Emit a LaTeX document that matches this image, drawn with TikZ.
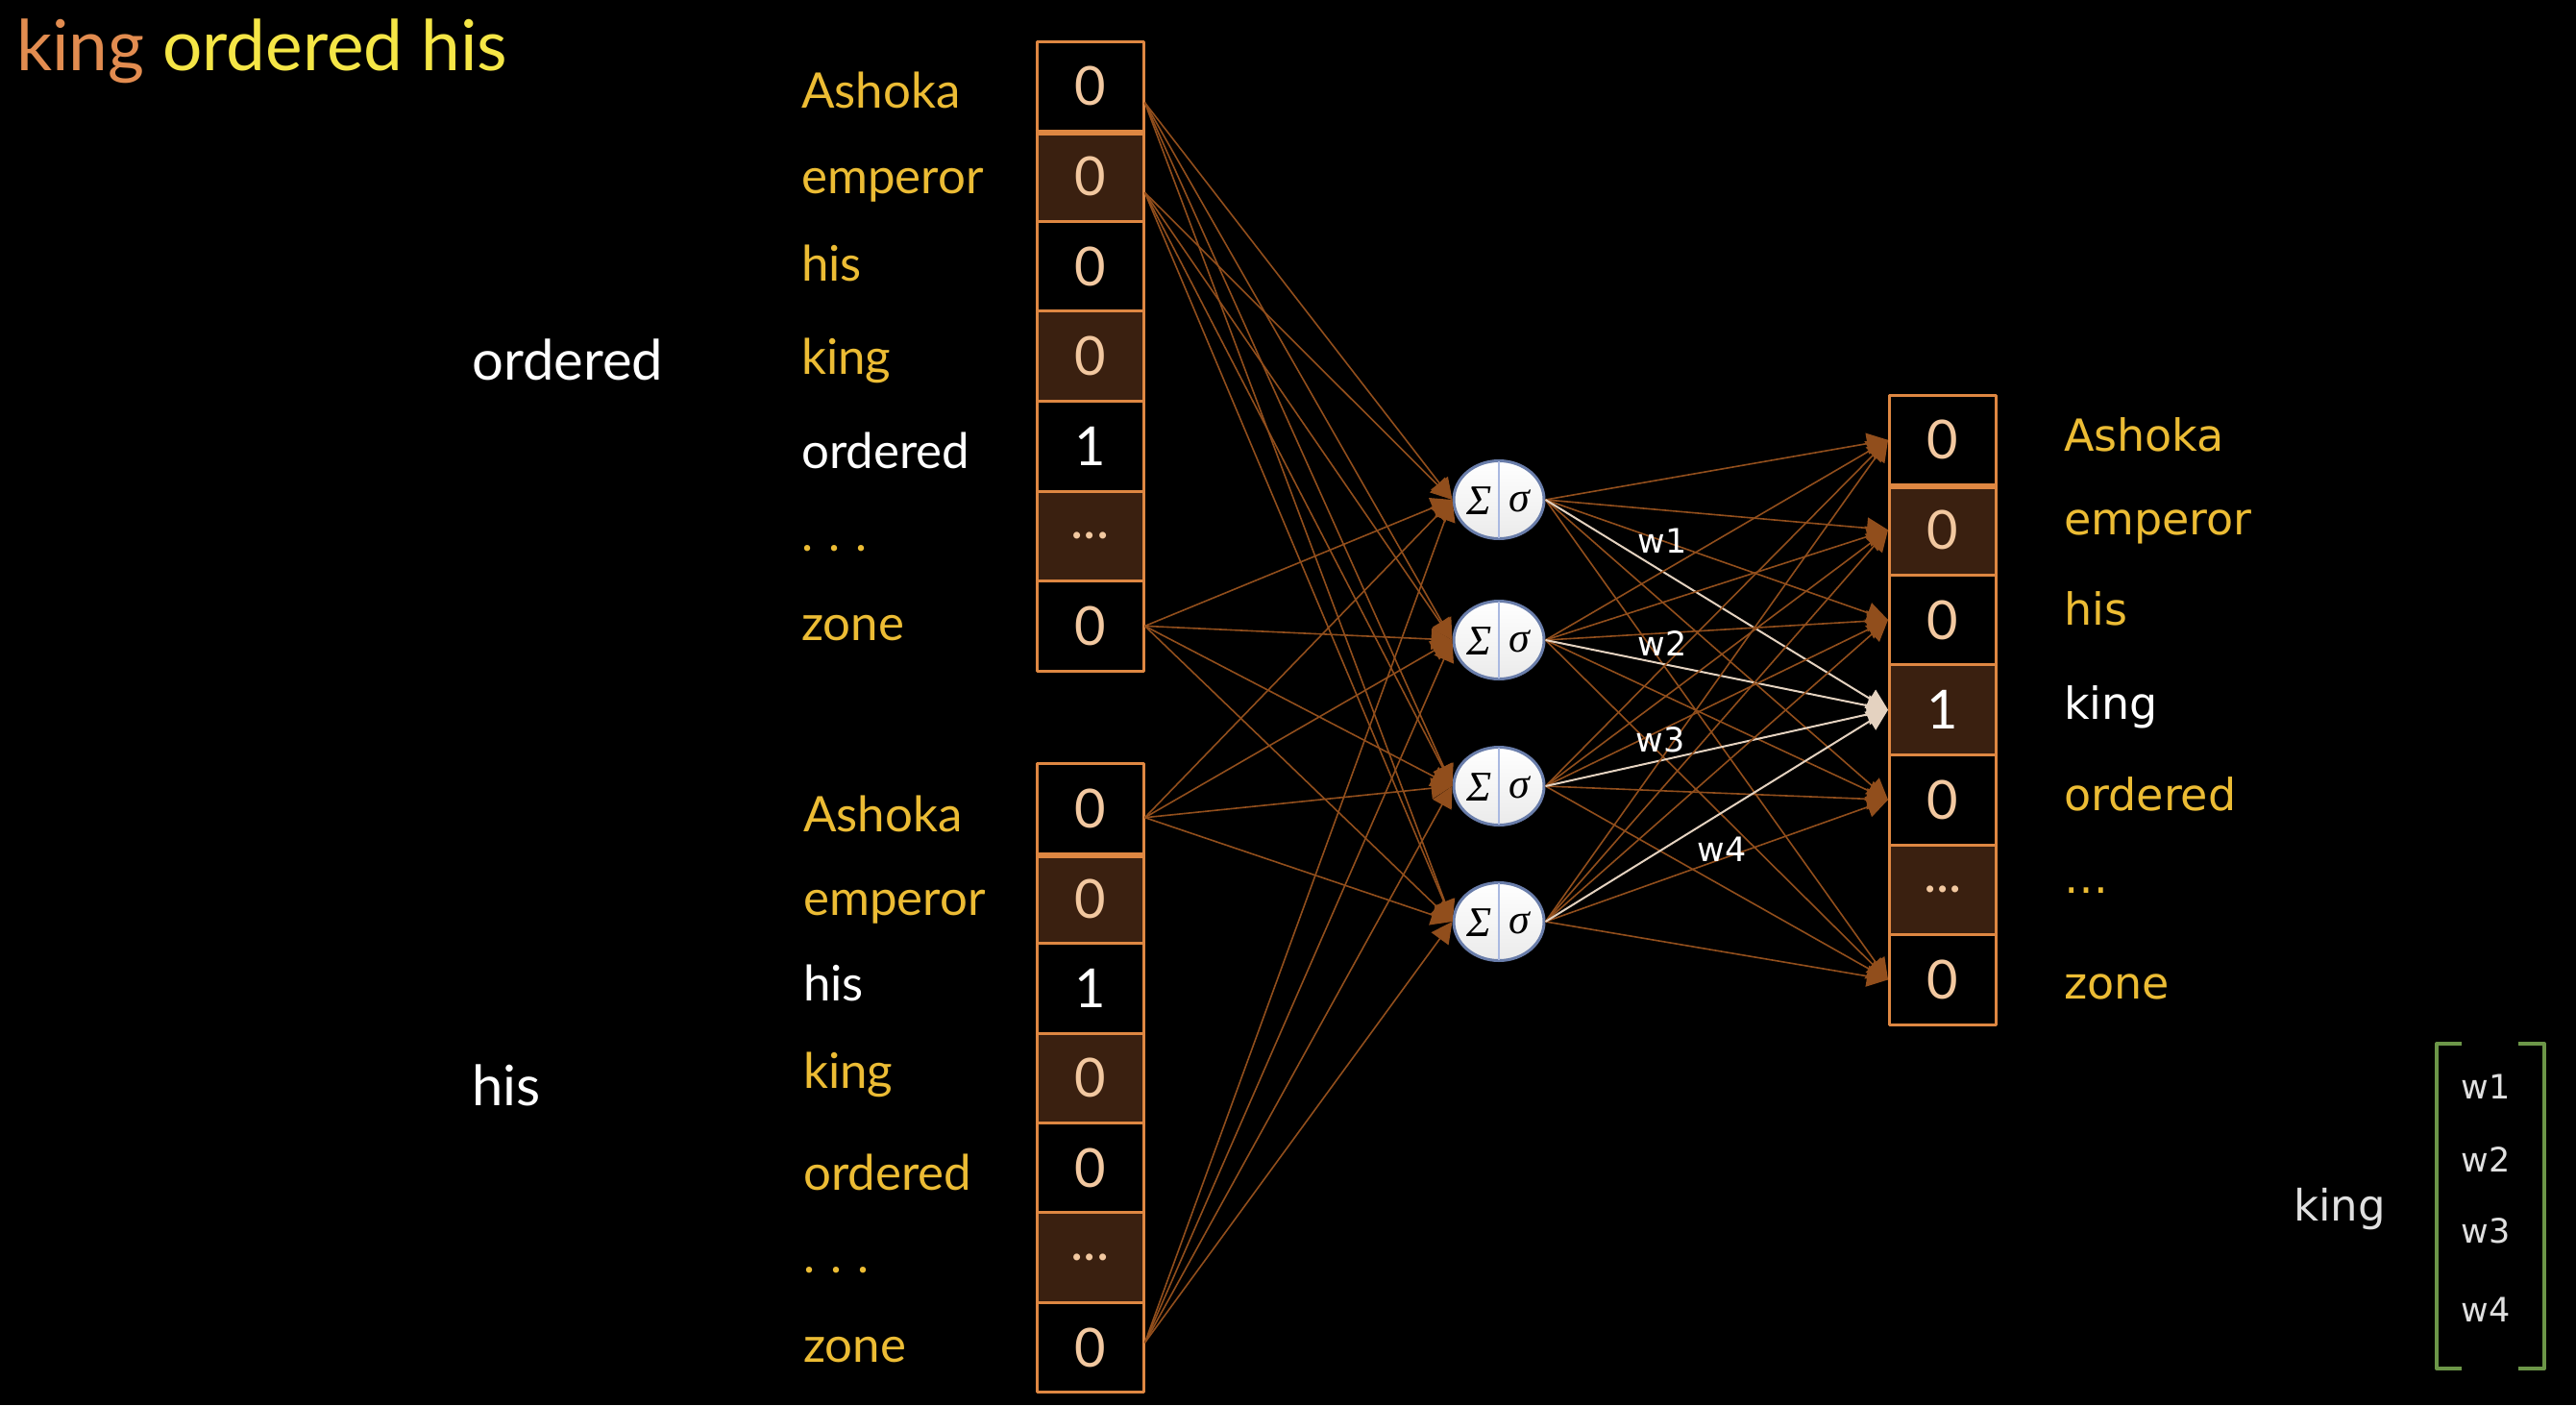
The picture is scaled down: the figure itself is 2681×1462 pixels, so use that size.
\documentclass[tikz,border=0pt]{standalone}
\usepackage{fontspec}
\setmainfont{Lato}
\newfontfamily\verdfont{DejaVu Sans}
\newfontfamily\greekfont{Liberation Serif}
\usetikzlibrary{shapes.geometric,arrows.meta}
\definecolor{gold}{RGB}{236,188,52}
\definecolor{lemon}{RGB}{245,230,70}
\definecolor{kingorange}{RGB}{226,140,80}
\definecolor{boxorange}{RGB}{222,135,66}
\definecolor{cellbrown}{RGB}{58,32,16}
\definecolor{peach}{RGB}{242,200,160}
\definecolor{linkbrown}{RGB}{145,78,28}
\definecolor{kinglink}{RGB}{228,210,192}
\definecolor{bracketgreen}{RGB}{108,150,72}
\definecolor{neuronrim}{RGB}{105,125,170}
\definecolor{neuronbar}{RGB}{170,185,225}
\newcommand\celldots{...}
\newcommand\labdots{.\hspace{0.32em}.\hspace{0.32em}.}
\tikzset{
  cell/.style={draw=boxorange, line width=3pt, minimum width=111pt, minimum height=93.6pt, inner sep=0pt, font=\fontsize{56}{60}\selectfont},
  lab/.style={anchor=base west, inner sep=0pt, font=\fontsize{51}{56}\selectfont},
  rlab/.style={anchor=base west, inner sep=0pt, font=\verdfont\fontsize{46}{52}\selectfont},
  neuron/.style={ellipse, draw=neuronrim, line width=3pt, minimum width=94pt, minimum height=81pt, inner sep=0pt, top color=white, bottom color=black!8},
  greek/.style={inner sep=0pt, font=\greekfont\itshape\fontsize{44}{48}\selectfont},
  link/.style={draw=linkbrown, line width=1.6pt, -{Triangle[length=22pt,width=22pt]}},
  klink/.style={draw=kinglink, line width=2pt, -{Triangle[length=22pt,width=22pt]}},
  wlab/.style={inner sep=0pt, font=\verdfont\fontsize{35}{40}\selectfont},
}
\begin{document}
\begin{tikzpicture}[x=1pt, y=-1pt, line join=round]
  \fill[black] (0,0) rectangle (2681,1462);
  % title
  \node[anchor=base west, inner sep=0pt, font=\fontsize{73}{80}\selectfont] (title) at (17,73)
    {\textcolor{kingorange}{king} \textcolor{lemon}{ordered his}};
  % context words
  \node[anchor=base west, inner sep=0pt, text=white, font=\fontsize{58}{64}\selectfont] (ctx1) at (491,395) {ordered};
  \node[anchor=base west, inner sep=0pt, text=white, font=\fontsize{58}{64}\selectfont] (ctx2) at (491,1150) {his};
  % input vector for ordered
  \foreach \v/\f/\c [count=\i] in {0/black/peach, 0/cellbrown/peach, 0/black/peach, 0/cellbrown/peach,
      1/black/white, \celldots/cellbrown/peach, 0/black/peach}
    \node[cell, fill=\f, text=\c] (a\i) at (1134.5,{43+93.6*\i-46.8}) {\v};
  \foreach \t/\c/\b [count=\i] in {Ashoka/gold/112, emperor/gold/201, his/gold/292, king/gold/389,
      ordered/white/487, \labdots/gold/573, zone/gold/666}
    \node[lab, text=\c] (la\i) at (834,\b) {\t};
  % input vector for his
  \foreach \v/\f/\c [count=\i] in {0/black/peach, 0/cellbrown/peach, 1/black/white, 0/cellbrown/peach,
      0/black/peach, \celldots/cellbrown/peach, 0/black/peach}
    \node[cell, fill=\f, text=\c] (b\i) at (1134.5,{795+93.4*\i-46.7}) {\v};
  \foreach \t/\c/\b [count=\i] in {Ashoka/gold/865, emperor/gold/952, his/white/1041, king/gold/1132,
      ordered/gold/1238, \labdots/gold/1324, zone/gold/1417}
    \node[lab, text=\c] (lb\i) at (836,\b) {\t};
  % output vector
  \foreach \v/\f/\c [count=\i] in {0/black/peach, 0/cellbrown/peach, 0/black/peach, 1/cellbrown/white,
      0/black/peach, \celldots/cellbrown/peach, 0/black/peach}
    \node[cell, fill=\f, text=\c] (o\i) at (2022,{411+93.6*\i-46.8}) {\v};
  \foreach \t/\c/\b [count=\i] in {Ashoka/gold/469, emperor/gold/556, his/gold/650, king/white/748,
      ordered/gold/843, \dots/gold/929, zone/gold/1039}
    \node[rlab, text=\c] (lo\i) at (2148,\b) {\t};
  \foreach \n in {a1,b1,o1}
    \draw[boxorange, line width=6pt] (\n.south west) -- (\n.south east);
  % hidden layer
  \foreach \y [count=\i] in {520,666,818,959} {
    \node[neuron] (h\i) at (1560,\y) {};
    \draw[neuronbar, line width=1.5pt] ([yshift=-2pt]h\i.north) -- ([yshift=2pt]h\i.south);
    \node[greek] at ([xshift=-20pt,yshift=-1pt]h\i.center) {Σ};
    \node[greek] at ([xshift=21pt,yshift=-1pt]h\i.center) {σ};
  }
  \coordinate (s1) at ([yshift=-17pt]a1.east);
  \coordinate (s2) at ([yshift=-17pt]a2.east);
  \coordinate (s3) at (a7.east);
  \coordinate (s4) at ([yshift=-9pt]b1.east);
  \coordinate (s5) at ([yshift=5pt]b7.east);
  \foreach \s in {1,...,5}
    \foreach \h in {1,...,4}
      \draw[link] (s\s) -- (h\h.west);
  \foreach \h in {1,...,4} {
    \foreach \o in {1,2,3,5,7}
      \draw[link] (h\h.east) -- (o\o.west);
    \draw[klink] (h\h.east) -- (o4.west);
  }
  \node[wlab, text=white] (w1) at (1730,563) {w1};
  \node[wlab, text=white] (w2) at (1730,670) {w2};
  \node[wlab, text=white] (w3) at (1728,770) {w3};
  \node[wlab, text=white] (w4) at (1792,884) {w4};
  % embedding of king
  \node[inner sep=0pt, text=black!12, font=\verdfont\fontsize{45}{50}\selectfont] (emb) at (2435,1258) {king};
  \foreach \y [count=\i] in {1131,1206,1281,1363}
    \node[wlab, text=black!12] (e\i) at (2587,\y) {w\i};
  \draw[bracketgreen, line width=4pt] (2562,1086) -- (2536,1086) -- (2536,1424) -- (2562,1424);
  \draw[bracketgreen, line width=4pt] (2621,1086) -- (2648,1086) -- (2648,1424) -- (2621,1424);
\end{tikzpicture}
\end{document}
